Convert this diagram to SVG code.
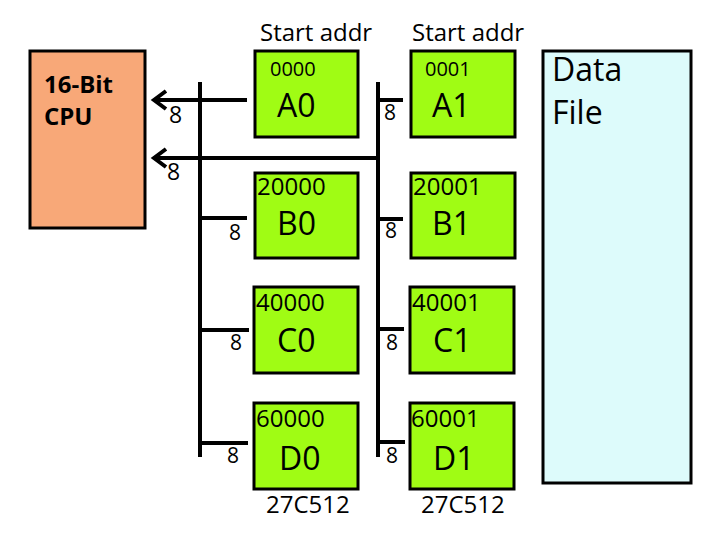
<svg xmlns="http://www.w3.org/2000/svg" width="720" height="540" viewBox="0 0 720 540">
<style>
text{font-family:"Open Sans","Noto Sans","DejaVu Sans",sans-serif;fill:#000}
.chip{fill:#A0FC14;stroke:#000;stroke-width:3}
.bus{stroke:#000;stroke-width:4;fill:none}
.addr{font-size:24px}
.addr4{font-size:20px}
.name{font-size:32px}
.lbl{font-size:24px}
.w{font-size:21px}
.wc{font-size:23px}
</style>
<rect width="720" height="540" fill="#fff"/>
<g id="cpu">
<rect x="30" y="51" width="115" height="177" fill="#F8A878" stroke="#000" stroke-width="3"/>
<text x="44" y="93" font-size="24" font-weight="bold">16-Bit</text>
<text x="44" y="125" font-size="24" font-weight="bold">CPU</text>
</g>
<g id="datafile">
<rect x="543" y="51" width="148" height="432" fill="#DDFBFB" stroke="#000" stroke-width="3"/>
<text x="552" y="81" font-size="32">Data</text>
<text x="552" y="124" font-size="32">File</text>
</g>
<g id="labels">
<text class="lbl" x="260" y="41">Start addr</text>
<text class="lbl" x="412" y="41">Start addr</text>
<text class="lbl" x="266" y="513">27C512</text>
<text class="lbl" x="421" y="513">27C512</text>
</g>
<g id="A0"><rect class="chip" x="255" y="51" width="103" height="86"/><text class="addr4" x="270" y="76">0000</text><text class="name" x="277" y="117">A0</text></g>
<g id="A1"><rect class="chip" x="411" y="51" width="104" height="86"/><text class="addr4" x="425" y="76">0001</text><text class="name" x="432" y="117">A1</text></g>
<g id="B0"><rect class="chip" x="255" y="173" width="103" height="85"/><text class="addr" x="257" y="195">20000</text><text class="name" x="277" y="235">B0</text></g>
<g id="B1"><rect class="chip" x="411" y="173" width="104" height="85"/><text class="addr" x="413" y="195">20001</text><text class="name" x="432" y="235">B1</text></g>
<g id="C0"><rect class="chip" x="254" y="287" width="104" height="86"/><text class="addr" x="256" y="311">40000</text><text class="name" x="277" y="352">C0</text></g>
<g id="C1"><rect class="chip" x="410" y="287" width="104" height="86"/><text class="addr" x="412" y="311">40001</text><text class="name" x="433" y="352">C1</text></g>
<g id="D0"><rect class="chip" x="254" y="403" width="104" height="86"/><text class="addr" x="256" y="427">60000</text><text class="name" x="279" y="470">D0</text></g>
<g id="D1"><rect class="chip" x="410" y="403" width="104" height="86"/><text class="addr" x="411" y="427">60001</text><text class="name" x="433" y="470">D1</text></g>
<g id="connectors">
<path class="bus" d="M200 82V457M378 82V457"/>
<path class="bus" d="M247 100H154M166 91L154 100L166 109"/>
<path class="bus" d="M378 158H154M166 149L154 158L166 167"/>
<path class="bus" d="M200 218H247M200 330H249M200 443H248"/>
<path class="bus" d="M378 100H403M378 219H403M378 329H404M378 442H405"/>
<text class="wc" x="169" y="123">8</text>
<text class="wc" x="167" y="180">8</text>
<text class="w" x="229" y="240">8</text>
<text class="w" x="230" y="350">8</text>
<text class="w" x="227" y="463">8</text>
<text class="w" x="384" y="120">8</text>
<text class="w" x="385" y="238">8</text>
<text class="w" x="386" y="350">8</text>
<text class="w" x="386" y="463">8</text>
</g>
</svg>
